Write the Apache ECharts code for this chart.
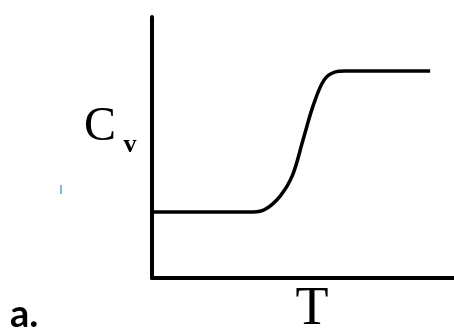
<!DOCTYPE html>
<html>
<head>
<meta charset="utf-8">
<script src="https://cdn.jsdelivr.net/npm/echarts@6/dist/echarts.min.js"></script>
<style>
  html, body { margin: 0; padding: 0; background: #fff; }
  #chart { width: 454px; height: 330px; }
</style>
</head>
<body>
<div id="chart"></div>
<script>
// curve, T and Cv in 0..100 axis units
let tVals  = [0, 33.5, 37.5, 42.5, 46.5, 50.0, 53.5, 57.0, 60.5, 64.0, 92.1];
let cvVals = [25.3, 25.3, 26.3, 31.5, 39.3, 52.9, 66.5, 75.9, 78.9, 79.3, 79.3];

let curve = tVals.map(function (t, i) {
    return [t, cvVals[i]];
});

let myChart = echarts.init(document.getElementById('chart'));
let option = {
    animation: false,
    grid: {
        left: 152,
        top: 17,
        right: 0,
        bottom: 52
    },
    xAxis: {
        type: 'value',
        min: 0,
        max: 100,
        axisLine: {show: true, lineStyle: {color: '#000', width: 4}},
        axisTick: {show: false},
        axisLabel: {show: false},
        splitLine: {show: false}
    },
    yAxis: {
        type: 'value',
        min: 0,
        max: 100,
        axisLine: {show: true, lineStyle: {color: '#000', width: 4}},
        axisTick: {show: false},
        axisLabel: {show: false},
        splitLine: {show: false}
    },
    series: [
        {
            name: 'Cv',
            type: 'line',
            data: curve,
            smooth: 0.35,
            showSymbol: false,
            lineStyle: {color: '#000', width: 3.5}
        }
    ],
    graphic: [
        {
            type: 'text',
            style: {x: 100, y: 127, text: 'C', font: '48px "Liberation Serif"', fill: '#000', textAlign: 'center', textVerticalAlign: 'middle'}
        },
        {
            type: 'text',
            style: {x: 130, y: 145, text: 'v', font: 'bold 26px "Liberation Serif"', fill: '#000', textAlign: 'center', textVerticalAlign: 'middle'}
        },
        {
            type: 'text',
            style: {x: 312, y: 310, text: 'T', font: '54px "Liberation Serif"', fill: '#000', textAlign: 'center', textVerticalAlign: 'middle'}
        },
        {
            type: 'text',
            style: {x: 10, y: 315, text: 'a.', font: 'bold 38px Lato', fill: '#000', textAlign: 'left', textVerticalAlign: 'middle'}
        },
        {
            type: 'rect',
            shape: {x: 60, y: 185, width: 2, height: 9},
            style: {fill: '#7fb8e6'}
        }
    ]
};
myChart.setOption(option);
</script>
</body>
</html>
